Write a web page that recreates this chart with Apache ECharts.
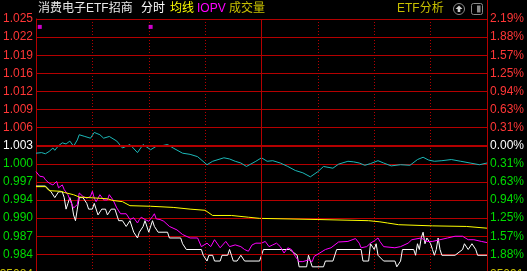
<!DOCTYPE html>
<html><head><meta charset="utf-8">
<script src="https://cdn.jsdelivr.net/npm/echarts@6/dist/echarts.min.js"></script>
<style>html,body{margin:0;padding:0;background:#000;overflow:hidden;}#c{width:527px;height:271px;}</style>
</head><body><div id="c"></div>
<script>
// ---- reference values ----
const prevClose = 1.003;      // 昨收
const stepPct = 0.3129;       // percent per grid row
const leftLabels  = ['1.025','1.022','1.019','1.016','1.012','1.009','1.006','1.003','1.000','0.997','0.994','0.990','0.987','0.984','',''];
const rightLabels = ['2.19%','1.88%','1.57%','1.25%','0.94%','0.63%','0.31%','0.00%','0.31%','0.63%','0.94%','1.25%','1.57%','1.88%','',''];

// price line (white)
const priceMin = [0,5,6,8,10,12,14,15,16,17,18,19,20,21,22,23,25,27,28,30,31,33,35,37,38,40,42,44,46,48,50,52,54,55,57,58,60,62,63,65,70,71,77,78,80,88,89,91,92,94,95,98,99,102,103,104,105,107,109,110,111,119,120,121,135,139,140,144,145,146,147,153,154,158,160,173,174,177,178,179,180,181,182,183,185,191,192,194,195,201,202,203,204,205,206,207,208,210,211,212,213,214,215,216,223,227,228,230,232,234,235,240];
const priceVal = [0.996,0.996,0.996,0.995,0.994,0.995,0.995,0.994,0.992,0.993,0.994,0.993,0.991,0.990,0.992,0.994,0.994,0.993,0.992,0.992,0.993,0.991,0.992,0.992,0.991,0.992,0.992,0.990,0.990,0.989,0.990,0.988,0.987,0.988,0.989,0.990,0.988,0.990,0.989,0.988,0.988,0.987,0.987,0.986,0.985,0.985,0.984,0.983,0.984,0.984,0.983,0.983,0.984,0.984,0.985,0.984,0.983,0.983,0.984,0.984,0.983,0.983,0.984,0.985,0.985,0.984,0.982,0.982,0.984,0.983,0.982,0.982,0.983,0.983,0.985,0.985,0.983,0.983,0.986,0.986,0.985,0.986,0.984,0.984,0.983,0.983,0.982,0.983,0.985,0.985,0.984,0.986,0.985,0.987,0.988,0.986,0.987,0.986,0.985,0.984,0.985,0.987,0.985,0.984,0.984,0.985,0.986,0.985,0.986,0.985,0.984,0.984];

// average line (yellow)
const avgMin = [0,5,7,13,15,20,23,38,41,46,50,61,73,74,82,83,90,91,94,104,105,113,114,119,120,150,151,177,178,183,187,193,194,211,212,229,230,240];
const avgVal = [0.9959,0.9959,0.9952,0.9951,0.9949,0.9945,0.9941,0.9938,0.9935,0.9933,0.9926,0.9925,0.9923,0.9920,0.9920,0.9919,0.9918,0.9916,0.9909,0.9909,0.9906,0.9906,0.9904,0.9904,0.9902,0.9902,0.9900,0.9900,0.9899,0.9898,0.9896,0.9893,0.9891,0.9891,0.9890,0.9890,0.9887,0.9887];

// IOPV (magenta)
const iopvMin = [0,2,4,5,6,7,8,9,11,12,14,15,16,17,18,20,21,22,23,24,25,27,29,30,31,32,34,36,38,39,41,43,45,48,50,52,54,55,56,58,60,62,63,64,66,68,71,75,78,82,86,87,88,91,93,95,98,101,103,106,109,111,113,115,117,120,122,124,126,128,130,132,134,136,138,140,142,145,147,148,151,154,157,161,166,170,172,173,176,178,180,182,183,185,191,194,198,200,205,208,211,215,219,223,227,230,233,237,240];
const iopvVal = [0.9985,0.9977,0.9976,0.9971,0.9974,0.9965,0.9968,0.9962,0.9968,0.9957,0.9962,0.9954,0.9951,0.9945,0.9936,0.9922,0.9919,0.9928,0.9948,0.9951,0.9942,0.9939,0.9942,0.9951,0.9939,0.9933,0.9945,0.9936,0.9936,0.9945,0.9936,0.9922,0.9912,0.9912,0.9902,0.9905,0.9896,0.9902,0.9906,0.9902,0.9899,0.9907,0.9912,0.9903,0.9902,0.9899,0.9890,0.9884,0.9876,0.9870,0.9870,0.9867,0.9855,0.9861,0.9855,0.9867,0.9853,0.9864,0.9855,0.9858,0.9855,0.9850,0.9847,0.9858,0.9861,0.9861,0.9864,0.9855,0.9858,0.9861,0.9855,0.9844,0.9853,0.9850,0.9838,0.9829,0.9829,0.9832,0.9829,0.9838,0.9844,0.9850,0.9853,0.9863,0.9864,0.9869,0.9861,0.9853,0.9855,0.9861,0.9865,0.9870,0.9864,0.9855,0.9853,0.9855,0.9861,0.9867,0.9870,0.9864,0.9864,0.9867,0.9870,0.9873,0.9873,0.9867,0.9867,0.9864,0.9862];

// reference index line (cyan), expressed on the price scale
const idxMin = [0,3,5,7,9,10,12,14,16,18,20,22,23,26,29,31,34,36,39,43,46,50,54,57,61,64,67,70,73,78,82,86,91,94,100,103,106,109,112,117,120,123,126,130,134,138,142,146,150,153,158,161,166,169,172,175,178,182,185,189,194,199,203,206,209,212,216,221,226,231,236,240];
const idxVal = [1.0017,1.0018,1.0016,1.0020,1.0026,1.0022,1.0030,1.0035,1.0033,1.0038,1.0029,1.0040,1.0049,1.0046,1.0043,1.0053,1.0049,1.0043,1.0046,1.0038,1.0026,1.0032,1.0018,1.0032,1.0023,1.0029,1.0030,1.0032,1.0026,1.0017,1.0015,1.0011,0.9997,1.0003,1.0009,1.0007,1.0003,1.0000,0.9994,1.0003,1.0009,1.0003,1.0004,1.0000,0.9994,0.9987,0.9983,0.9976,0.9985,0.9994,0.9991,0.9998,1.0003,1.0002,1.0000,0.9996,0.9999,1.0004,1.0000,0.9995,0.9997,0.9996,1.0006,1.0010,1.0005,1.0003,1.0004,1.0006,1.0003,1.0000,0.9997,1.0000];

// event markers (magenta squares)
const markMin = [2,61];
const markVal = [1.0236,1.0236];

// ---- build ----
const toU = p => (p / prevClose - 1) * 100 / stepPct;
const pairs = (ms, vs) => ms.map((m, i) => [m, toU(vs[i])]);
const RED = '#b40000';
const labCol = v => { v = Math.round(Number(v)); return v > 0 ? '#ff3636' : (v === 0 ? '#ffffff' : '#00dc00'); };
const labFont = "'Liberation Sans', Arial, sans-serif";
const cjk = "'Liberation Sans','Noto Sans CJK SC', sans-serif";

const chart = echarts.init(document.getElementById('c'), null, {renderer: 'canvas'});
const lineBase = {type: 'line', showSymbol: false, symbol: 'none', animation: false, silent: true};
chart.setOption({
  backgroundColor: '#000000',
  animation: false,
  grid: {left: 36, top: 19, width: 451, height: 271.5, containLabel: false, outerBoundsMode: 'none'},
  xAxis: {
    type: 'value', min: 0, max: 240, interval: 30,
    axisLine: {show: false}, axisTick: {show: false}, axisLabel: {show: false},
    splitLine: {show: true, lineStyle: {color: RED, width: 1, type: [1, 2]}}
  },
  yAxis: [
    {
      type: 'value', min: -8, max: 7, interval: 1, position: 'left',
      axisLine: {show: true, lineStyle: {color: RED, width: 1}},
      axisTick: {show: false},
      splitLine: {show: true, lineStyle: {color: RED, width: 1}},
      axisLabel: {
        margin: 3, fontSize: 12, fontFamily: labFont,
        formatter: v => leftLabels[7 - Math.round(v)] || '',
        color: v => labCol(v)
      }
    },
    {
      type: 'value', min: -8, max: 7, interval: 1, position: 'right',
      axisLine: {show: true, lineStyle: {color: RED, width: 1}},
      axisTick: {show: false},
      splitLine: {show: false},
      axisLabel: {
        margin: 3, fontSize: 12, fontFamily: labFont,
        formatter: v => rightLabels[7 - Math.round(v)] || '',
        color: v => labCol(v)
      }
    }
  ],
  series: [
    Object.assign({}, lineBase, {
      name: 'grid', data: [],
      markLine: {
        silent: true, symbol: ['none', 'none'], label: {show: false}, animation: false,
        data: [
          {yAxis: 0, lineStyle: {color: RED, width: 2, type: 'solid'}},
          {xAxis: 120, lineStyle: {color: RED, width: 1, type: 'solid'}}
        ]
      }
    }),
    Object.assign({}, lineBase, {name: '指数', data: pairs(idxMin, idxVal), lineStyle: {color: '#1cb8b8', width: 1}}),
    Object.assign({}, lineBase, {name: '价格', data: pairs(priceMin, priceVal), lineStyle: {color: '#ffffff', width: 1}}),
    Object.assign({}, lineBase, {name: 'IOPV', data: pairs(iopvMin, iopvVal), lineStyle: {color: '#ff00ff', width: 1}}),
    Object.assign({}, lineBase, {name: '均线', data: pairs(avgMin, avgVal), lineStyle: {color: '#ffff00', width: 1}}),
    {type: 'scatter', data: pairs(markMin, markVal), symbol: 'rect', symbolSize: 4, itemStyle: {color: '#ff00ff'}, silent: true, animation: false}
  ],
  graphic: [
    {type: 'line', shape: {x1: 487.5, y1: 0, x2: 487.5, y2: 19}, style: {stroke: RED, lineWidth: 1}, silent: true},
    {type: 'text', x: 38, y: 9, style: {text: '消费电子ETF招商', fill: '#e8e8e8', font: '12px ' + cjk, textVerticalAlign: 'middle'}},
    {type: 'text', x: 141, y: 9, style: {text: '分时', fill: '#ffffff', font: '12px ' + cjk, textVerticalAlign: 'middle'}},
    {type: 'text', x: 170, y: 9, style: {text: '均线', fill: '#ffff00', font: '12px ' + cjk, textVerticalAlign: 'middle'}},
    {type: 'text', x: 197, y: 9, style: {text: 'IOPV', fill: '#ff00ff', font: '12px ' + cjk, textVerticalAlign: 'middle'}},
    {type: 'text', x: 229, y: 9, style: {text: '成交量', fill: '#c8c000', font: '12px ' + cjk, textVerticalAlign: 'middle'}},
    {type: 'text', x: 397, y: 9, style: {text: 'ETF分析', fill: '#c8c000', font: '12px ' + cjk, textVerticalAlign: 'middle'}},
    {type: 'circle', shape: {cx: 459, cy: 9, r: 5.5}, style: {fill: 'none', stroke: '#8a8a8a', lineWidth: 1}},
    {type: 'polygon', shape: {points: [[459, 5.5], [462.5, 9], [460.3, 9], [460.3, 12], [457.7, 12], [457.7, 9], [455.5, 9]]}, style: {fill: '#d0d0d0'}},
    {type: 'rect', shape: {x: 471.5, y: 3.5, width: 11, height: 11, r: 2}, style: {fill: 'none', stroke: '#8a8a8a', lineWidth: 1}},
    {type: 'rect', shape: {x: 477, y: 5.5, width: 3.5, height: 7}, style: {fill: '#8a8a8a'}},
    {type: 'text', x: 33, y: 275, style: {text: '35084', fill: '#c8c000', font: '12px ' + labFont, textAlign: 'right', textVerticalAlign: 'middle'}},
    {type: 'text', x: 490, y: 275, style: {text: '25091', fill: '#c8c000', font: '12px ' + labFont, textAlign: 'left', textVerticalAlign: 'middle'}}
  ]
});
</script>
</body></html>
